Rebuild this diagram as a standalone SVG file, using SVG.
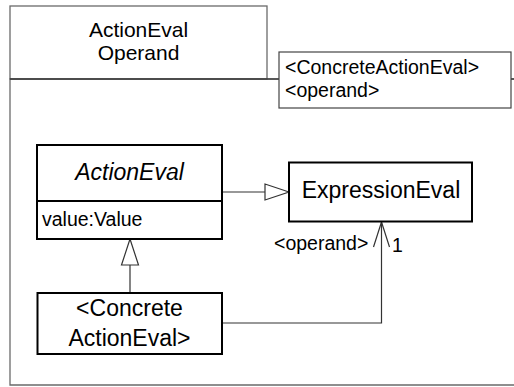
<svg xmlns="http://www.w3.org/2000/svg" width="514" height="387" viewBox="0 0 514 387">
<style>
text{font-family:"Liberation Sans",Arial,sans-serif;fill:#000}
.big{font-size:23px}
.title{font-size:21px}
.small{font-size:19.5px}
.pkg{fill:none;stroke:#6a6a6a;stroke-width:1.3}
.cls{fill:#fff;stroke:#000;stroke-width:2}
.note{fill:#fff;stroke:#444;stroke-width:1.2}
.con{fill:none;stroke:#333;stroke-width:1.2}
.gen{fill:#fff;stroke:#333;stroke-width:1.2}
</style>
<g id="package">
<rect class="pkg" x="10" y="6" width="257" height="73"/>
<path class="pkg" d="M514,79 H10 V385 H514" />
<line x1="10" y1="79" x2="514" y2="79" stroke="#222" stroke-width="1.2"/>
<text class="title" x="138.5" y="36.5" text-anchor="middle">ActionEval</text>
<text class="title" x="138.5" y="60" text-anchor="middle">Operand</text>
</g>
<g id="note">
<rect class="note" x="279" y="52" width="232" height="56"/>
<text class="small" x="285" y="74">&lt;ConcreteActionEval&gt;</text>
<text class="small" x="285" y="96.5">&lt;operand&gt;</text>
</g>
<g id="connectors">
<line class="con" x1="222" y1="192" x2="265" y2="192"/>
<polygon class="gen" points="289,192 265,184 265,200"/>
<line class="con" x1="130" y1="265" x2="130" y2="293"/>
<polygon class="gen" points="130,239 121.5,265 138.5,265"/>
<polyline class="con" points="222,323 381.5,323 381.5,222"/>
<polyline class="con" points="373.5,247 381.5,222 389.5,247"/>
<text class="small" x="274" y="249.5">&lt;operand&gt;</text>
<text class="small" x="392" y="251.5">1</text>
</g>
<g id="ActionEval">
<rect class="cls" x="37" y="145" width="185" height="94"/>
<line x1="37" y1="201" x2="222" y2="201" stroke="#000" stroke-width="2"/>
<text class="big" x="129.5" y="180" text-anchor="middle" font-style="italic">ActionEval</text>
<text class="small" x="42" y="226">value:Value</text>
</g>
<g id="ExpressionEval">
<rect class="cls" x="289" y="162.5" width="183" height="59" stroke-width="1.6"/>
<text class="big" x="381" y="198" text-anchor="middle">ExpressionEval</text>
</g>
<g id="ConcreteActionEval">
<rect class="cls" x="37.5" y="293" width="184.5" height="61"/>
<text class="big" x="129.5" y="316" text-anchor="middle">&lt;Concrete</text>
<text class="big" x="129.5" y="345.5" text-anchor="middle">ActionEval&gt;</text>
</g>
</svg>
